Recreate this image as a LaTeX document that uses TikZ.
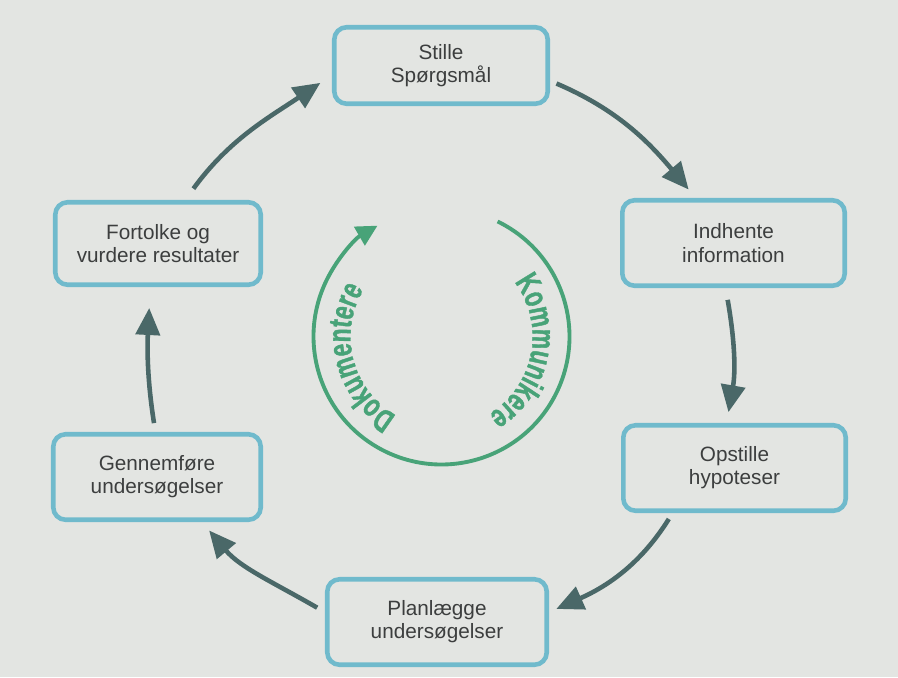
\documentclass[tikz,border=0pt]{standalone}
\usepackage{fontspec}
\setmainfont{Liberation Sans}
\newfontfamily\cyclefont[FakeStretch=0.7, FakeBold=1.2]{Liberation Sans}
\usepackage{tikz}
\usetikzlibrary{arrows.meta, decorations.text}

\definecolor{pagegrey}{RGB}{227,229,226}
\definecolor{boxblue}{RGB}{112,186,204}
\definecolor{flowgrey}{RGB}{74,104,104}
\definecolor{cyclegreen}{RGB}{72,163,120}
\definecolor{labelgrey}{RGB}{60,62,62}

\begin{document}
\begin{tikzpicture}[
		x=0.02cm, y=0.02cm,
		stepbox/.style={rectangle, draw=boxblue, line width=2.6pt, rounded corners=7pt, minimum width=4.3cm, minimum height=1.71cm, align=center, text=labelgrey, font=\fontsize{11.8}{13.2}\selectfont},
		flow/.style={draw=flowgrey, line width=2.6pt, -{Triangle[length=0.54cm, width=0.48cm]}},
		cyclearrow/.style={draw=cyclegreen, line width=2.2pt, -{Triangle[length=0.42cm, width=0.42cm]}},
		cycletext/.style={decorate, decoration={text along path, text align=center, text color=cyclegreen, text={|\cyclefont\bfseries\fontsize{18.5}{20}\selectfont|#1}}}
		]

		\fill[pagegrey] (0,0) rectangle (898,677);

		\node[stepbox, minimum width=4.27cm, minimum height=1.53cm] (stille) at (441,611.5) {Stille\\Spørgsmål};
		\node[stepbox, minimum width=4.45cm] (indhente) at (733.5,434) {Indhente\\information};
		\node[stepbox, minimum width=4.45cm] (opstille) at (734.5,209) {Opstille\\hypoteser};
		\node[stepbox, minimum width=4.39cm] (planlaegge) at (437,55) {Planlægge\\undersøgelser};
		\node[stepbox, minimum width=4.15cm] (gennemfoere) at (157,200) {Gennemføre\\undersøgelser};
		\node[stepbox, minimum width=4.11cm, minimum height=1.65cm] (fortolke) at (158,433.5) {Fortolke og\\vurdere resultater};

		\draw[flow, shorten <=0.14cm, shorten >=0.22cm] (stille.-8) to[out=-23, in=130] (indhente.130);
		\draw[flow, shorten <=0.24cm, shorten >=0.22cm] (indhente.-100) to[out=-80, in=80] (opstille.100);
		\draw[flow, shorten <=0.14cm, shorten >=0.16cm] (opstille.-144) to[out=-122, in=24] (planlaegge.5);
		\draw[flow, shorten <=0.18cm, shorten >=0.22cm] (planlaegge.175) to[out=150, in=-50] (gennemfoere.-45);
		\draw[flow, shorten <=0.18cm, shorten >=0.42cm] (gennemfoere.92) to[out=99, in=-93] (fortolke.-100);
		\draw[flow, shorten <=0.28cm, shorten >=0.28cm] (fortolke.58) to[out=54, in=-146] (stille.185);

		\coordinate (hub) at (441.5,340.5);
		\draw[cyclearrow] ([shift={(64:2.56cm)}]hub) arc[start angle=64, end angle=-240, radius=2.56cm];
		\path[cycletext=Kommunikere] ([shift={(39:1.82cm)}]hub) arc[start angle=39, end angle=-61, radius=1.82cm];
		\path[cycletext=Dokumentere] ([shift={(244.5:1.82cm)}]hub) arc[start angle=244.5, end angle=144.5, radius=1.82cm];
	\end{tikzpicture}
\end{document}
